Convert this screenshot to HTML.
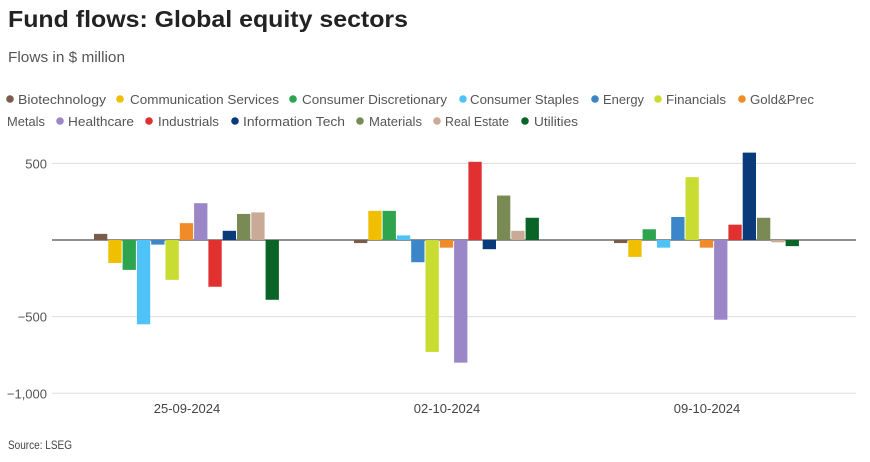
<!DOCTYPE html>
<html><head><meta charset="utf-8"><style>
body{margin:0;background:#fff;font-family:"Liberation Sans",sans-serif;}
svg text{font-family:"Liberation Sans",sans-serif;}
</style></head><body>
<svg width="870" height="457" xmlns="http://www.w3.org/2000/svg" id="chart">
<text x="8" y="27" font-size="23" font-weight="bold" fill="#222" textLength="400" lengthAdjust="spacingAndGlyphs">Fund flows: Global equity sectors</text>
<text x="8" y="62" font-size="15" fill="#555" textLength="117" lengthAdjust="spacingAndGlyphs">Flows in $ million</text>
<g id="legend"></g>
<g id="grid"></g>
<g id="bars"></g>
<text x="8" y="449" font-size="12" fill="#444" textLength="64" lengthAdjust="spacingAndGlyphs">Source: LSEG</text>
</svg>
<script>
const sectors=["Biotechnology","Communication Services","Consumer Discretionary","Consumer Staples","Energy","Financials","Gold&Prec Metals","Healthcare","Industrials","Information Tech","Materials","Real Estate","Utilities"];
const colors=["#7a5c4a","#f0c000","#2ea44f","#4fc3f7","#3a86c8","#c8dc32","#f08c28","#9b87c8","#e03030","#0a3a7a","#7a8a55","#c8aa96","#0a6428"];
const dates=["25-09-2024","02-10-2024","09-10-2024"];
const flows0=[40,-150,-195,-550,-30,-260,110,240,-305,60,170,180,-390];
const flows1=[-20,190,190,30,-145,-730,-50,-800,510,-60,290,60,145];
const flows2=[-20,-110,70,-50,150,410,-50,-520,100,570,145,-15,-40];
const flows=[flows0,flows1,flows2];
const yTicks=[500,0,-500,-1000];
const yTickLabels=["500","","−500","−1,000"];
const NS="http://www.w3.org/2000/svg";
function y(v){return 240-v*0.1533;}
function gx(i){return 187+i*260;}
const grid=document.getElementById('grid'),bars=document.getElementById('bars'),leg=document.getElementById('legend');
function mk(t,a,p){const e=document.createElementNS(NS,t);for(const k in a)e.setAttribute(k,a[k]);p.appendChild(e);return e;}
yTicks.forEach((t,i)=>{
 const l=mk('line',{x1:52,x2:856,y1:y(t),y2:y(t),stroke:t===0?'#222':'#ddd','stroke-width':1},grid);
 
 
 if(yTickLabels[i]){const tx=mk('text',{x:47,y:y(t)+5,'font-size':13,fill:'#555','text-anchor':'end'},grid);tx.textContent=yTickLabels[i];
 
 }
});
dates.forEach((d,i)=>{
 const tx=mk('text',{x:gx(i),y:413,'font-size':13,fill:'#444','text-anchor':'middle'},grid);tx.textContent=d;
 
 
 flows[i].forEach((v,j)=>{
  const x=gx(i)-93+j*14.3;
  const r=mk('rect',{x:x,y:Math.min(y(v),y(0)),width:13.3,height:Math.abs(y(v)-y(0)),fill:colors[j]},bars);
  
  
 });
});
// [dot center x, row, text start x, text width]
const legPos=[[10,1,18,88],[120,1,130,149],[293,1,302,145],[463,1,470,109],[595,1,603,41],[658,1,666,60],[742,1,750,64],[60,2,68,66],[149,2,158,61],[235,2,243,102],[360,2,369,53],[437,2,445,64],[525,2,534,44]];
sectors.forEach((s,j)=>{
 const [x,row,tx0,w]=legPos[j];const yy=row===1?99:121;
 const c=mk('circle',{cx:x,cy:yy,r:3.8,fill:colors[j]},leg);
 
 
 const t=mk('text',{x:tx0,y:yy+5,'font-size':13,fill:'#555',textLength:w,lengthAdjust:'spacingAndGlyphs'},leg);
 t.textContent=s==="Gold&Prec Metals"?"Gold&Prec":s;
 
 
});
const m=mk('text',{x:7,y:126,'font-size':13,fill:'#555',textLength:38,lengthAdjust:'spacingAndGlyphs'},leg);m.textContent="Metals";


</script>
</body></html>
